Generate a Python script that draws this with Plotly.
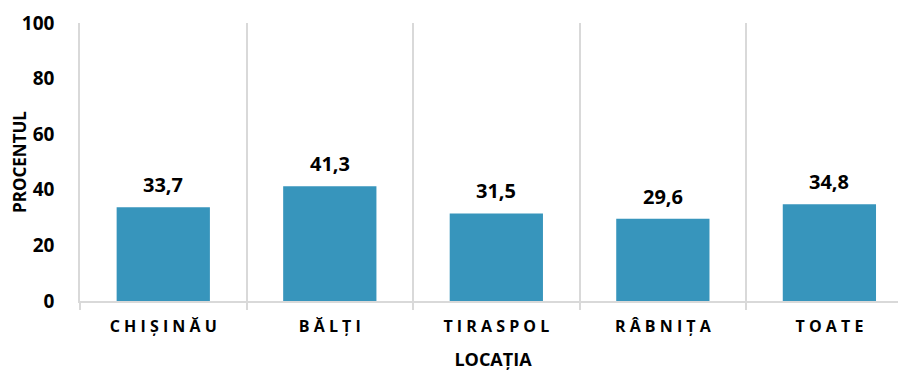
import plotly.graph_objects as go

# Data
locations = ["CHIȘINĂU", "BĂLȚI", "TIRASPOL", "RÂBNIȚA", "TOATE"]
percent = [33.7, 41.3, 31.5, 29.6, 34.8]
value_labels = ["33,7", "41,3", "31,5", "29,6", "34,8"]
y_ticks = [0, 20, 40, 60, 80, 100]

BAR_COLOR = "#3795BC"
GRID_COLOR = "#D9D9D9"
FONT = "Open Sans"


def spaced(s):
    # emulate the letter spacing of the original axis labels
    return " ".join(s)


fig = go.Figure()

fig.add_trace(
    go.Bar(
        x=locations,
        y=percent,
        marker=dict(color=BAR_COLOR, line=dict(width=0)),
        width=0.56,
    )
)

# Value labels above the bars
for loc, val, lab in zip(locations, percent, value_labels):
    fig.add_annotation(
        x=loc,
        y=val,
        text=lab,
        showarrow=False,
        yanchor="bottom",
        yshift=7,
        font=dict(family=FONT, size=20, color="black", weight="bold"),
    )

# the page body has an 8px margin, so the figure is sized to fit the window
fig.update_layout(
    width=898,
    height=367,
    margin=dict(l=72, r=0, t=15, b=74, autoexpand=False),
    plot_bgcolor="white",
    paper_bgcolor="white",
    showlegend=False,
    font=dict(family=FONT, color="black"),
    xaxis=dict(
        type="category",
        tickvals=locations,
        ticktext=[spaced(s) for s in locations],
        tickfont=dict(family=FONT, size=16, weight="bold"),
        range=[-0.5, 4.46],
        tickson="boundaries",
        showgrid=True,
        gridcolor=GRID_COLOR,
        gridwidth=1.5,
        ticks="outside",
        ticklen=7,
        tickcolor=GRID_COLOR,
        tickwidth=1.5,
        showline=True,
        linecolor=GRID_COLOR,
        linewidth=1.5,
        ticklabelstandoff=10,
        title=dict(
            text="LOCAȚIA",
            font=dict(family=FONT, size=18, weight="bold"),
            standoff=17,
        ),
    ),
    yaxis=dict(
        range=[0, 100],
        tickvals=y_ticks,
        tickfont=dict(family=FONT, size=19, weight="bold"),
        showgrid=False,
        zeroline=False,
        showline=True,
        linecolor=GRID_COLOR,
        linewidth=1.5,
        ticklabelstandoff=20,
        title=dict(
            text="PROCENTUL",
            font=dict(family=FONT, size=17, weight="bold"),
            standoff=0,
        ),
    ),
)

fig.write_html("out.html")
